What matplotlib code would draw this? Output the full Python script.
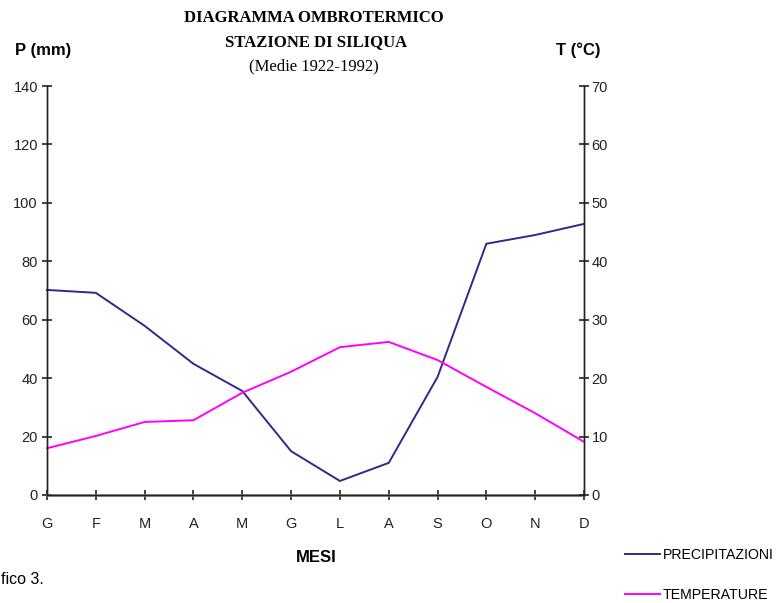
import matplotlib
matplotlib.use("Agg")
import matplotlib.pyplot as plt
from matplotlib.lines import Line2D

months = ["G", "F", "M", "A", "M", "G", "L", "A", "S", "O", "N", "D"]
precipitazioni = [70.2, 69.2, 57.9, 44.9, 35.6, 15.0, 4.8, 11.0, 40.4, 86.0, 89.0, 92.8]
temperature = [8.0, 10.1, 12.5, 12.8, 17.5, 21.1, 25.3, 26.2, 23.1, 18.5, 14.0, 9.1]
p_ticks = [0, 20, 40, 60, 80, 100, 120, 140]
t_ticks = [0, 10, 20, 30, 40, 50, 60, 70]

plt.rcParams['font.family'] = ['Liberation Sans', 'DejaVu Sans']

W, H = 779, 603
fig = plt.figure(figsize=(W / 100, H / 100), dpi=100)
ax = fig.add_axes([47 / W, 1 - 495 / H, (584 - 47) / W, (495 - 86) / H])
ax2 = ax.twinx()

x = list(range(len(months)))
p_color = "#2B2B8C"
t_color = "#FF00FF"
ax.plot(x, precipitazioni, color=p_color, lw=1.4, clip_on=False)
ax2.plot(x, temperature, color=t_color, lw=1.4, clip_on=False)

ax.set_xlim(0, len(months) - 1)
ax.set_ylim(0, 140)
ax2.set_ylim(0, 70)
ax.set_yticks(p_ticks)
ax2.set_yticks(t_ticks)
ax.set_xticks(x)
ax.set_xticklabels(months)

for a in (ax, ax2):
    a.spines['top'].set_visible(False)
    for s in ('left', 'right', 'bottom'):
        a.spines[s].set_color('#222222')
        a.spines[s].set_linewidth(1.0)
ax.spines['bottom'].set_color('#777777')
ax.spines['bottom'].set_linewidth(1.8)
ax.tick_params(axis='y', direction='inout', length=7, width=1.2, labelsize=10.5, pad=3, colors='#222222')
ax2.tick_params(axis='y', direction='inout', length=7, width=1.2, labelsize=10.5, pad=2, colors='#222222')
ax.tick_params(axis='x', direction='inout', length=7, width=1.2, labelsize=10.5, pad=12, colors='#222222')

serif = ['Liberation Serif', 'DejaVu Serif']
fig.text(314 / W, 1 - 18 / H, "DIAGRAMMA OMBROTERMICO", ha='center', va='center',
         family=serif, fontweight='bold', fontsize=12)
fig.text(316 / W, 1 - 42 / H, "STAZIONE DI SILIQUA", ha='center', va='center',
         family=serif, fontweight='bold', fontsize=12)
fig.text(314 / W, 1 - 66 / H, "(Medie 1922-1992)", ha='center', va='center',
         family=serif, fontsize=12)

fig.text(43 / W, 1 - 50 / H, "P (mm)", ha='center', va='center', fontweight='bold', fontsize=12)
fig.text(578 / W, 1 - 50 / H, "T (°C)", ha='center', va='center', fontweight='bold', fontsize=12)
fig.text(316 / W, 1 - 557 / H, "MESI", ha='center', va='center', fontweight='bold', fontsize=12)
fig.text(44 / W, 1 - 580 / H, "fico 3.", ha='right', va='center', fontsize=11.5)

handles = [Line2D([], [], color=p_color, lw=1.4), Line2D([], [], color=t_color, lw=1.4)]
fig.legend(handles, ["PRECIPITAZIONI", "TEMPERATURE"], loc='upper left',
           bbox_to_anchor=(619 / W, 1 - 542 / H), frameon=False, fontsize=10.2,
           handlelength=2.5, handletextpad=0.2, labelspacing=1.85, borderaxespad=0)

fig.savefig("out.png", dpi=100)
